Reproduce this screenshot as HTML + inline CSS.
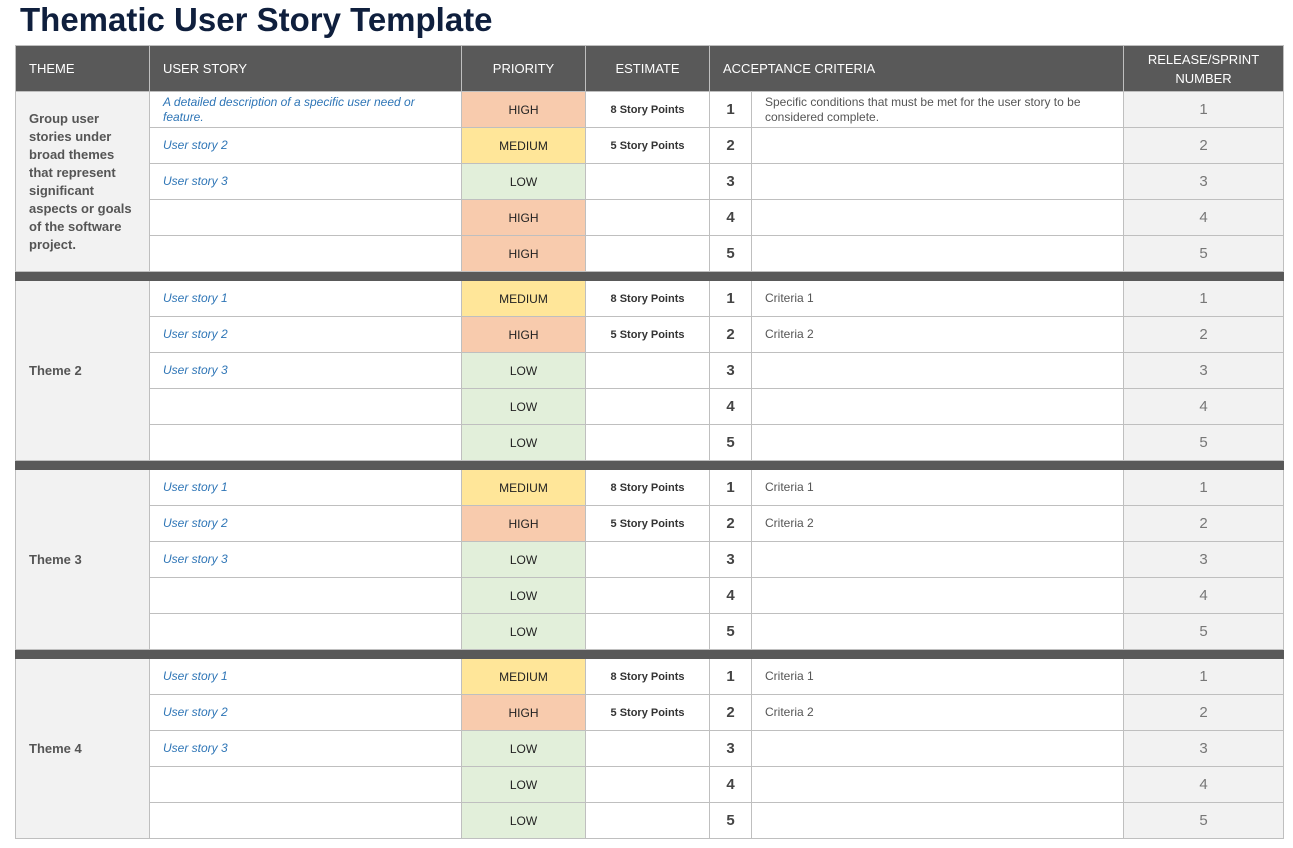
<!DOCTYPE html>
<html><head><meta charset="utf-8"><style>
body{margin:0;background:#fff;font-family:"Liberation Sans",sans-serif;width:1293px;height:848px;overflow:hidden}
h1{position:absolute;left:20px;top:0;margin:0;font-size:33px;font-weight:bold;color:#0f1f3d;line-height:40px}
table{position:absolute;left:15px;top:45px;border-collapse:collapse;table-layout:fixed;width:1268px}
td,th{border:1px solid #bfbfbf;padding:0;font-size:12px;overflow:hidden}
th{background:#595959;color:#fff;font-weight:normal;font-size:13px;height:45px;border-color:#bfbfbf;line-height:19px}
tr.r td{height:35px}
tr.s td{height:8px;background:#595959;border-color:#595959}
.th{background:#f2f2f2;color:#555;font-weight:bold;font-size:13px;padding-left:13px;padding-right:14px;line-height:18px}
.us{color:#2e75b6;font-style:italic;padding-left:13px;padding-right:12px;line-height:15px}
.p{text-align:center;color:#222}
.H{background:#f8cbad}.M{background:#ffe699}.L{background:#e2efda}
.e{text-align:center;font-weight:bold;font-size:11px;color:#333}
.n{text-align:center;font-weight:bold;font-size:15px;color:#444}
.c{padding-left:13px;color:#555;line-height:15px}
.rl{background:#f2f2f2;text-align:center;font-size:15px;color:#777}
</style></head><body>
<h1>Thematic User Story Template</h1>
<table>
<colgroup><col style="width:134px"><col style="width:312px"><col style="width:124px"><col style="width:124px"><col style="width:42px"><col style="width:372px"><col style="width:160px"></colgroup>
<tr><th style="text-align:left;padding-left:13px">THEME</th><th style="text-align:left;padding-left:13px">USER STORY</th><th>PRIORITY</th><th>ESTIMATE</th><th colspan="2" style="text-align:left;padding-left:13px">ACCEPTANCE CRITERIA</th><th>RELEASE/SPRINT<br>NUMBER</th></tr>
<tr class="r"><td class="th" rowspan="5">Group user stories under broad themes that represent significant aspects or goals of the software project.</td><td class="us">A detailed description of a specific user need or feature.</td><td class="p H">HIGH</td><td class="e">8 Story Points</td><td class="n">1</td><td class="c">Specific conditions that must be met for the user story to be considered complete.</td><td class="rl">1</td></tr>
<tr class="r"><td class="us">User story 2</td><td class="p M">MEDIUM</td><td class="e">5 Story Points</td><td class="n">2</td><td class="c"></td><td class="rl">2</td></tr>
<tr class="r"><td class="us">User story 3</td><td class="p L">LOW</td><td class="e"></td><td class="n">3</td><td class="c"></td><td class="rl">3</td></tr>
<tr class="r"><td class="us"></td><td class="p H">HIGH</td><td class="e"></td><td class="n">4</td><td class="c"></td><td class="rl">4</td></tr>
<tr class="r"><td class="us"></td><td class="p H">HIGH</td><td class="e"></td><td class="n">5</td><td class="c"></td><td class="rl">5</td></tr>
<tr class="s"><td colspan="7"></td></tr>
<tr class="r"><td class="th" rowspan="5">Theme 2</td><td class="us">User story 1</td><td class="p M">MEDIUM</td><td class="e">8 Story Points</td><td class="n">1</td><td class="c">Criteria 1</td><td class="rl">1</td></tr>
<tr class="r"><td class="us">User story 2</td><td class="p H">HIGH</td><td class="e">5 Story Points</td><td class="n">2</td><td class="c">Criteria 2</td><td class="rl">2</td></tr>
<tr class="r"><td class="us">User story 3</td><td class="p L">LOW</td><td class="e"></td><td class="n">3</td><td class="c"></td><td class="rl">3</td></tr>
<tr class="r"><td class="us"></td><td class="p L">LOW</td><td class="e"></td><td class="n">4</td><td class="c"></td><td class="rl">4</td></tr>
<tr class="r"><td class="us"></td><td class="p L">LOW</td><td class="e"></td><td class="n">5</td><td class="c"></td><td class="rl">5</td></tr>
<tr class="s"><td colspan="7"></td></tr>
<tr class="r"><td class="th" rowspan="5">Theme 3</td><td class="us">User story 1</td><td class="p M">MEDIUM</td><td class="e">8 Story Points</td><td class="n">1</td><td class="c">Criteria 1</td><td class="rl">1</td></tr>
<tr class="r"><td class="us">User story 2</td><td class="p H">HIGH</td><td class="e">5 Story Points</td><td class="n">2</td><td class="c">Criteria 2</td><td class="rl">2</td></tr>
<tr class="r"><td class="us">User story 3</td><td class="p L">LOW</td><td class="e"></td><td class="n">3</td><td class="c"></td><td class="rl">3</td></tr>
<tr class="r"><td class="us"></td><td class="p L">LOW</td><td class="e"></td><td class="n">4</td><td class="c"></td><td class="rl">4</td></tr>
<tr class="r"><td class="us"></td><td class="p L">LOW</td><td class="e"></td><td class="n">5</td><td class="c"></td><td class="rl">5</td></tr>
<tr class="s"><td colspan="7"></td></tr>
<tr class="r"><td class="th" rowspan="5">Theme 4</td><td class="us">User story 1</td><td class="p M">MEDIUM</td><td class="e">8 Story Points</td><td class="n">1</td><td class="c">Criteria 1</td><td class="rl">1</td></tr>
<tr class="r"><td class="us">User story 2</td><td class="p H">HIGH</td><td class="e">5 Story Points</td><td class="n">2</td><td class="c">Criteria 2</td><td class="rl">2</td></tr>
<tr class="r"><td class="us">User story 3</td><td class="p L">LOW</td><td class="e"></td><td class="n">3</td><td class="c"></td><td class="rl">3</td></tr>
<tr class="r"><td class="us"></td><td class="p L">LOW</td><td class="e"></td><td class="n">4</td><td class="c"></td><td class="rl">4</td></tr>
<tr class="r"><td class="us"></td><td class="p L">LOW</td><td class="e"></td><td class="n">5</td><td class="c"></td><td class="rl">5</td></tr>
</table>
</body></html>
